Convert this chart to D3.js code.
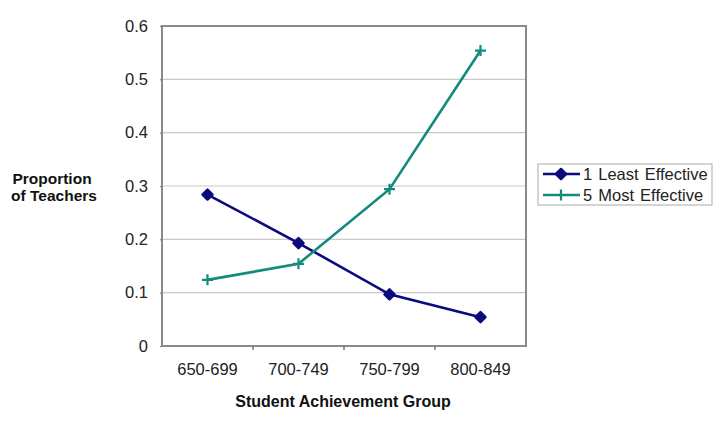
<!DOCTYPE html>
<html><head><meta charset="utf-8">
<script src="https://cdn.jsdelivr.net/npm/d3@7"></script>
<style>
html,body{margin:0;padding:0;background:#fff;}
svg{display:block;font-family:"Liberation Sans",Arial,sans-serif;}
</style></head>
<body><svg id="c" width="720" height="422"></svg>
<script>
const categories = ["650-699","700-749","750-799","800-849"];
const leastEffective = [0.284, 0.193, 0.097, 0.054];
const mostEffective = [0.124, 0.154, 0.294, 0.554];
const yTicks = [0, 0.1, 0.2, 0.3, 0.4, 0.5, 0.6];
const seriesNames = ["1 Least Effective", "5 Most Effective"];

const svg = d3.select("#c");
const L = 162, R = 526, T = 26, B = 346;
const x = d3.scaleBand().domain(categories).range([L, R]);
const y = d3.scaleLinear().domain([0, 0.6]).range([B, T]);

// gridlines
svg.append("g").selectAll("line").data(yTicks.filter(d => d > 0 && d < 0.6)).join("line")
  .attr("x1", L).attr("x2", R).attr("y1", d => y(d)).attr("y2", d => y(d))
  .attr("stroke", "#c9c9c9").attr("stroke-width", 1.2);

// frame
svg.append("rect").attr("x", L).attr("y", T).attr("width", R - L).attr("height", B - T)
  .attr("fill", "none").attr("stroke", "#8a8a8a").attr("stroke-width", 2);

// y axis
const yAxis = d3.axisLeft(y).tickValues(yTicks).tickSize(2).tickPadding(12)
  .tickFormat(d => d === 0 ? "0" : d3.format(".1f")(d));
const gy = svg.append("g").attr("transform", `translate(${L},0)`).call(yAxis);
gy.select(".domain").remove();
gy.selectAll(".tick line").attr("stroke", "#777");
gy.selectAll("text").attr("fill", "#222").style("font-size", "16.5px");

// x axis
const xAxis = d3.axisBottom(x).tickSize(0).tickPadding(17);
const gx = svg.append("g").attr("transform", `translate(0,${B})`).call(xAxis);
gx.select(".domain").remove();
gx.selectAll("text").attr("fill", "#222").style("font-size", "16.5px");
// category boundary ticks
svg.append("g").selectAll("line").data(categories.slice(1)).join("line")
  .attr("x1", d => x(d)).attr("x2", d => x(d)).attr("y1", B).attr("y2", B + 4)
  .attr("stroke", "#777").attr("stroke-width", 1.5);

// axis titles
svg.append("text").attr("x", 343).attr("y", 407).attr("text-anchor", "middle")
  .style("font-size", "16px").style("font-weight", "bold").attr("fill", "#111")
  .text("Student Achievement Group");
const yt = svg.append("text").attr("text-anchor", "middle")
  .style("font-size", "15.5px").style("font-weight", "bold").attr("fill", "#111");
yt.append("tspan").attr("x", 52).attr("y", 184).text("Proportion");
yt.append("tspan").attr("x", 54).attr("y", 201).text("of Teachers");

const cx = d => x(d) + x.bandwidth() / 2;
const blue = "#0b0b7e", teal = "#148a7f";
const line = d3.line().x((d, i) => cx(categories[i])).y(d => y(d));

svg.append("path").datum(leastEffective).attr("d", line).attr("fill", "none")
  .attr("stroke", blue).attr("stroke-width", 2.6);
svg.append("path").datum(mostEffective).attr("d", line).attr("fill", "none")
  .attr("stroke", teal).attr("stroke-width", 2.6);

const diamondPath = s => `M0,${-s}L${s},0L0,${s}L${-s},0Z`;
svg.append("g").selectAll("path").data(leastEffective).join("path")
  .attr("transform", (d, i) => `translate(${cx(categories[i])},${y(d)})`)
  .attr("d", diamondPath(5)).attr("fill", blue).attr("stroke", blue).attr("stroke-width", 2.5).attr("stroke-linejoin", "round");

function plusPath(s) { return `M${-s},0H${s}M0,${-s}V${s}`; }
svg.append("g").selectAll("path").data(mostEffective).join("path")
  .attr("transform", (d, i) => `translate(${cx(categories[i])},${y(d)})`)
  .attr("d", plusPath(5.5)).attr("fill", "none").attr("stroke", teal).attr("stroke-width", 2.2);

// legend
const lg = svg.append("g");
lg.append("rect").attr("x", 538).attr("y", 164).attr("width", 174).attr("height", 41)
  .attr("fill", "#fff").attr("stroke", "#aaa").attr("stroke-width", 1);
const colors = [blue, teal];
seriesNames.forEach((n, i) => {
  const yy = 174 + i * 21;
  lg.append("line").attr("x1", 543).attr("x2", 580).attr("y1", yy).attr("y2", yy)
    .attr("stroke", colors[i]).attr("stroke-width", 2.4);
  if (i === 0) {
    lg.append("path").attr("transform", `translate(561,${yy})`).attr("d", diamondPath(5))
      .attr("fill", blue).attr("stroke", blue).attr("stroke-width", 2.5).attr("stroke-linejoin", "round");
  } else {
    lg.append("path").attr("transform", `translate(561,${yy})`).attr("d", plusPath(5.5))
      .attr("fill", "none").attr("stroke", teal).attr("stroke-width", 2.2);
  }
  lg.append("text").attr("x", 583).attr("y", yy).attr("dy", "0.36em")
    .style("font-size", "16.5px").style("word-spacing", "1.5px").attr("fill", "#222").text(n);
});
</script></body></html>
